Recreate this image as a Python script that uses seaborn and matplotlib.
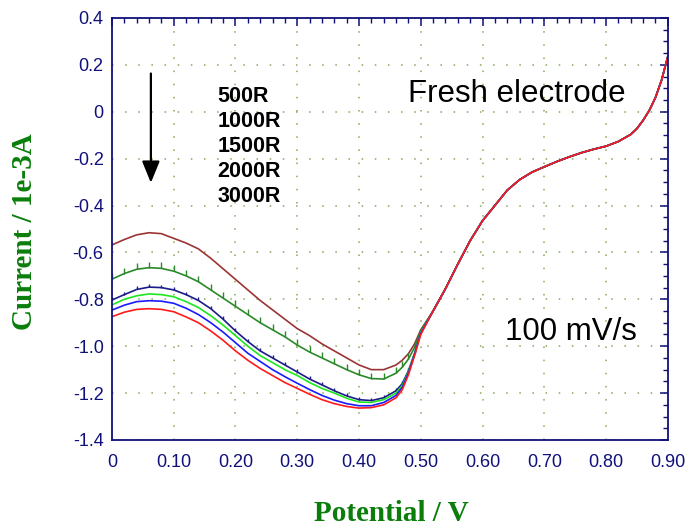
import numpy as np
import pandas as pd
import matplotlib
matplotlib.use("Agg")
import matplotlib.pyplot as plt
from matplotlib.ticker import MultipleLocator, FixedLocator
import seaborn as sns

# ---------------- data ----------------
potential_low = [0.00, 0.02, 0.04, 0.06, 0.08, 0.10, 0.12, 0.14, 0.16, 0.18,
                 0.20, 0.22, 0.24, 0.26, 0.28, 0.30, 0.32, 0.34, 0.36, 0.38,
                 0.40, 0.42, 0.44, 0.46, 0.47, 0.48, 0.49, 0.50]
potential_high = [0.52, 0.54, 0.56, 0.58, 0.60, 0.62, 0.64, 0.66, 0.68, 0.70,
                  0.72, 0.74, 0.76, 0.78, 0.80, 0.82, 0.84, 0.85, 0.86, 0.87,
                  0.88, 0.89, 0.90]

current_brown = [-0.568, -0.545, -0.525, -0.516, -0.520, -0.540, -0.560, -0.585, -0.625, -0.670,
                 -0.715, -0.760, -0.805, -0.845, -0.885, -0.925, -0.955, -0.990, -1.020, -1.050,
                 -1.080, -1.100, -1.100, -1.080, -1.060, -1.032, -0.990, -0.930]
current_dgreen = [-0.714, -0.690, -0.672, -0.665, -0.668, -0.680, -0.700, -0.725, -0.760, -0.795,
                  -0.830, -0.865, -0.900, -0.930, -0.960, -0.995, -1.025, -1.050, -1.075, -1.100,
                  -1.122, -1.138, -1.140, -1.115, -1.090, -1.055, -1.005, -0.935]
current_navy = [-0.803, -0.780, -0.758, -0.748, -0.750, -0.760, -0.780, -0.805, -0.840, -0.885,
                -0.935, -0.980, -1.020, -1.050, -1.080, -1.110, -1.140, -1.165, -1.190, -1.212,
                -1.228, -1.232, -1.220, -1.190, -1.160, -1.105, -1.030, -0.940]
current_bgreen = [-0.824, -0.800, -0.785, -0.777, -0.780, -0.789, -0.810, -0.835, -0.870, -0.910,
                  -0.955, -1.000, -1.040, -1.070, -1.100, -1.125, -1.155, -1.180, -1.200, -1.222,
                  -1.238, -1.240, -1.228, -1.200, -1.168, -1.110, -1.032, -0.940]
current_blue = [-0.846, -0.825, -0.810, -0.806, -0.808, -0.817, -0.838, -0.865, -0.900, -0.940,
                -0.985, -1.030, -1.065, -1.100, -1.130, -1.158, -1.185, -1.210, -1.230, -1.245,
                -1.254, -1.254, -1.240, -1.210, -1.176, -1.115, -1.035, -0.945]
current_red = [-0.874, -0.855, -0.843, -0.840, -0.843, -0.853, -0.875, -0.900, -0.935, -0.975,
               -1.020, -1.060, -1.095, -1.125, -1.155, -1.180, -1.205, -1.228, -1.245, -1.257,
               -1.264, -1.262, -1.250, -1.220, -1.186, -1.122, -1.040, -0.950]
# shared rising branch (all curves overlap here)
current_tail = [-0.850, -0.755, -0.650, -0.550, -0.465, -0.400, -0.335, -0.290, -0.258, -0.235,
                -0.213, -0.193, -0.175, -0.160, -0.147, -0.127, -0.097, -0.072, -0.037, 0.005,
                0.060, 0.135, 0.235]

legend_labels = ["500R", "1000R", "1500R", "2000R", "3000R"]
x_ticks = [0.0, 0.1, 0.2, 0.3, 0.4, 0.5, 0.6, 0.7, 0.8, 0.9]
x_ticklabels = ["0", "0.10", "0.20", "0.30", "0.40", "0.50", "0.60", "0.70", "0.80", "0.90"]
y_ticks = [0.4, 0.2, 0.0, -0.2, -0.4, -0.6, -0.8, -1.0, -1.2, -1.4]
y_ticklabels = ["0.4", "0.2", "0", "-0.2", "-0.4", "-0.6", "-0.8", "-1.0", "-1.2", "-1.4"]

# ---------------- style ----------------
sns.set_theme(style="white")
plt.rcParams['font.family'] = ['Liberation Sans', 'DejaVu Sans']

NAVY = "#10107a"
fig = plt.figure(figsize=(6.87, 5.28), dpi=100)
ax = fig.add_axes([0.163, 0.1667, 0.809, 0.7993])

series = [
    ("brown", current_brown, "#9b3434", None, 0),
    ("dgreen", current_dgreen, "#2a8a2a", 2, 4.5),
    ("navy", current_navy, "#1c1c8a", 2, 2.5),
    ("bgreen", current_bgreen, "#1ee61e", None, 0),
    ("blue", current_blue, "#1a1aff", None, 0),
    ("red", current_red, "#ff1a1a", None, 0),
]
xs = potential_low + potential_high
for name, low, color, mk, ms in series:
    df = pd.DataFrame({"Potential": xs, "Current": low + current_tail})
    kw = {}
    if mk is not None:
        kw = dict(marker=mk, markersize=ms, markeredgewidth=1.0,
                  markevery=slice(0, len(low) - 1), markeredgecolor=color)
    sns.lineplot(data=df, x="Potential", y="Current", ax=ax, color=color,
                 linewidth=1.2, sort=False, estimator=None, legend=False, **kw)

ax.set_xlim(0, 0.90)
ax.set_ylim(-1.4, 0.4)

# grid
ax.xaxis.set_major_locator(FixedLocator(x_ticks))
ax.yaxis.set_major_locator(FixedLocator(y_ticks))
ax.xaxis.set_minor_locator(MultipleLocator(0.02))
ax.yaxis.set_minor_locator(MultipleLocator(0.05))
ax.grid(True, which="major", color="#86a85a", linestyle=(0, (1.0, 7.6)), linewidth=1.1)
ax.set_axisbelow(True)

ax.set_xticklabels(x_ticklabels)
ax.set_yticklabels(y_ticklabels)

for sp in ax.spines.values():
    sp.set_color(NAVY)
    sp.set_linewidth(1.3)
    sp.set_visible(True)

ax.tick_params(axis="both", which="major", direction="in", length=6, width=1.1,
               color=NAVY, labelcolor=NAVY, top=True, right=True, labelsize=13)
ax.tick_params(axis="x", which="major", pad=10)
ax.tick_params(axis="y", which="major", pad=6)
ax.tick_params(axis="both", which="minor", direction="in", length=3.5, width=1.0,
               color=NAVY, top=True, right=True)

ax.set_xlabel("Potential / V", family=['Liberation Serif', 'DejaVu Serif'],
              fontweight="bold", fontsize=21, color="#0a7d0a")
ax.set_ylabel("Current / 1e-3A", family=['Liberation Serif', 'DejaVu Serif'],
              fontweight="bold", fontsize=21, color="#0a7d0a")
ax.xaxis.set_label_coords(0.502, -0.142)
ax.yaxis.set_label_coords(-0.134, 0.493)

# annotations
ax.annotate("", xy=(0.063, -0.315), xytext=(0.063, 0.175),
            arrowprops=dict(arrowstyle="-|>,head_length=1.1,head_width=0.45",
                            color="black", lw=1.6))
label_y = [0.813, 0.754, 0.695, 0.637, 0.578]
for lab, yy in zip(legend_labels, label_y):
    ax.text(0.19, yy, lab, transform=ax.transAxes, fontsize=15.5,
            fontweight="bold", color="black", va="center", ha="left")

ax.text(0.532, 0.82, "Fresh electrode", transform=ax.transAxes, fontsize=22.5,
        color="black", va="center", ha="left")
ax.text(0.707, 0.256, "100 mV/s", transform=ax.transAxes, fontsize=22.5,
        color="black", va="center", ha="left")

fig.savefig("out.png", dpi=100, facecolor="white")
